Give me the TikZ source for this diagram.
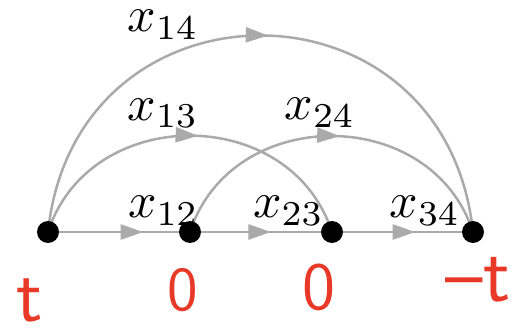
\documentclass[tikz,border=0pt]{standalone}
\usetikzlibrary{arrows.meta,decorations.markings,backgrounds}
\definecolor{edgegray}{HTML}{AAAAAA}
\definecolor{hand}{RGB}{232,56,40}
\tikzset{
  dot/.style={circle,fill=black,inner sep=0pt,minimum size=4.4pt},
  edge/.style={draw=edgegray,line width=0.5pt},
  midarrow/.style={postaction={decorate},decoration={markings,mark=at position #1 with {\arrow{Triangle[length=4.5pt,width=3pt,color=edgegray]}}}},
  lab/.style={inner sep=0pt},
  handlab/.style={inner sep=0pt,text=hand,font=\sffamily},
}
\begin{document}
\begin{tikzpicture}
\useasboundingbox (-0.338,-0.683) rectangle (3.310,1.634);
\node[dot] (n1) at (0,0) {};
\node[dot] (n2) at (1,0) {};
\node[dot] (n3) at (2,0) {};
\node[dot] (n4) at (2.993,0) {};
\begin{scope}[on background layer]
  \draw[edge,midarrow=0.67] (n1.center) -- (n2.center);
  \draw[edge,midarrow=0.57] (n2.center) -- (n3.center);
  \draw[edge,midarrow=0.59] (n3.center) -- (n4.center);
  \draw[edge,midarrow=0.522] (n1.center) to[out=72,in=108,looseness=1.22] (n3.center);
  \draw[edge,midarrow=0.522] (n2.center) to[out=72,in=108,looseness=1.22] (n4.center);
  \draw[edge,midarrow=0.512] (n1.center) to[out=84,in=96,looseness=1.59] (n4.center);
\end{scope}
\node[lab] (l14) at (0.81,1.46) {$x_{14}$};
\node[lab] (l13) at (0.81,0.835) {$x_{13}$};
\node[lab] (l24) at (1.915,0.84) {$x_{24}$};
\node[lab] (l12) at (0.813,0.15) {$x_{12}$};
\node[lab] (l23) at (1.694,0.15) {$x_{23}$};
\node[lab] (l34) at (2.655,0.15) {$x_{34}$};
\node[handlab,font=\sffamily\fontsize{15.5}{15.5}\selectfont] (h1) at (-0.127,-0.48) {t};
\node[handlab,font=\sffamily\fontsize{12.5}{12.5}\selectfont] (h2) at (0.951,-0.408) {0};
\node[handlab,font=\sffamily\fontsize{13.5}{13.5}\selectfont] (h3) at (1.908,-0.387) {0};
\node[handlab,font=\sffamily\fontsize{16}{16}\selectfont] (h4) at (3.028,-0.338) {--t};
\end{tikzpicture}
\end{document}
